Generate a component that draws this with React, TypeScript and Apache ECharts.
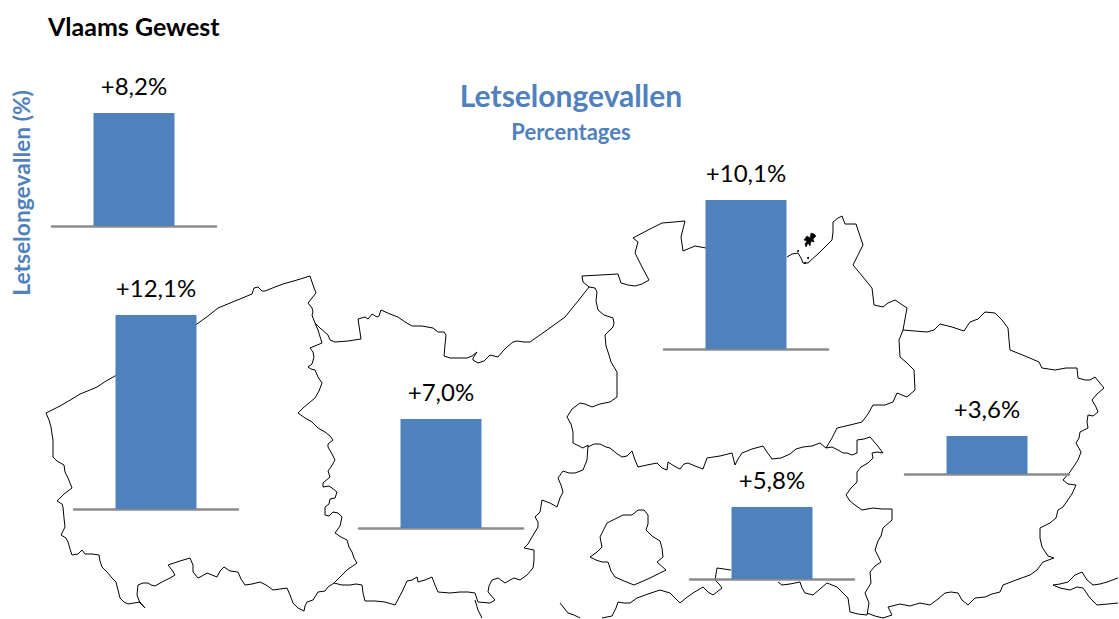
import React, { useEffect, useRef } from "react";
import * as echarts from "echarts";

const regions = ["Vlaams Gewest", "West-Vlaanderen", "Oost-Vlaanderen", "Antwerpen", "Vlaams-Brabant", "Limburg"];
const values = [8.2, 12.1, 7.0, 10.1, 5.8, 3.6];
const chartTitle = "Vlaams Gewest";
const mainTitle = "Letselongevallen";
const subTitle = "Percentages";
const axisTitle = "Letselongevallen (%)";

// Panel rectangles: [left, top of bar, width, height of bar]
const panels = [
  [52, 113, 164, 113],
  [74, 315, 164, 194],
  [359, 419, 164, 109],
  [664, 200, 164, 149],
  [690, 507, 164, 72],
  [905, 436, 164, 38],
];

// Province outlines (decoration behind the bars), in page pixels
const outlines: number[][][] = [
  // West-Vlaanderen coast and east side
  [[46,413],[60,406],[72,399],[80,394],[90,390],[97,387],[106,381],[115,376],[197,324],[208,316],[218,308],[235,301],[252,294],[254,288],[258,287],[262,291],[265,291],[275,287],[283,284],[297,280],[310,276],[312,282],[313,285],[316,293],[308,303],[312,308],[313,312],[312,315],[313,318],[315,323],[318,330],[322,343],[310,348],[313,352],[314,357],[312,364],[308,367],[311,369],[315,370],[318,377],[322,383],[319,391],[315,398],[309,403],[303,408],[298,413],[305,418],[312,422],[318,428],[325,432],[330,436],[333,440],[328,444],[328,447],[332,454],[335,460],[331,467],[328,471],[330,477],[323,483],[323,487],[329,486],[332,488],[337,492],[335,498],[330,499],[329,504],[325,507],[325,515],[329,516],[333,512],[338,513],[342,517],[340,526],[335,533],[341,537],[347,540],[349,547],[352,552],[354,558],[357,563],[347,570],[341,576],[334,583]],
  // West-Vlaanderen west and south side
  [[46,413],[49,420],[51,427],[52,434],[53,440],[53,451],[53,457],[57,461],[64,465],[65,472],[68,478],[72,488],[64,494],[57,501],[62,504],[63,507],[64,518],[65,527],[61,535],[66,538],[68,542],[70,549],[72,555],[78,554],[82,550],[85,554],[92,554],[99,555],[100,561],[102,567],[107,572],[112,578],[116,582],[118,590],[120,598],[124,602],[128,604],[134,603],[140,602],[145,608],[140,603],[137,595],[138,585],[143,583],[148,583],[151,585],[155,586],[162,582],[170,578],[175,575],[172,570],[168,565],[180,561],[190,558],[193,565],[193,572],[198,578],[202,576],[207,573],[212,575],[217,577],[220,571],[224,567],[230,571],[238,572],[241,579],[245,585],[252,584],[260,582],[266,585],[273,590],[280,589],[287,588],[290,595],[293,603],[298,608],[304,611],[305,606],[307,602],[313,600],[318,592],[325,591],[328,587],[334,583]],
  // Oost-Vlaanderen north side
  [[315,323],[320,328],[328,335],[330,340],[335,342],[348,341],[361,339],[358,319],[365,317],[368,319],[372,314],[377,317],[379,316],[381,310],[390,314],[398,317],[405,322],[412,326],[422,326],[433,328],[438,332],[444,332],[446,335],[445,345],[444,356],[450,358],[458,358],[467,358],[472,356],[477,352],[473,358],[473,360],[478,363],[484,361],[490,355],[498,357],[503,351],[507,347],[513,342],[517,341],[524,342],[530,342],[547,330],[565,317],[578,301],[589,287]],
  // Schelde side, between Oost-Vlaanderen and Antwerpen
  [[582,276],[583,282],[589,287],[595,288],[597,292],[596,301],[598,310],[604,315],[613,318],[614,323],[613,327],[605,335],[606,346],[609,355],[611,362],[617,372],[617,385],[617,397],[610,402],[600,404],[592,407],[585,404],[580,403],[572,409],[567,417],[571,424],[573,432],[573,443],[583,448],[588,445]],
  // Oost-Vlaanderen and Vlaams-Brabant
  [[588,445],[587,460],[583,470],[575,473],[569,473],[563,471],[558,478],[561,485],[563,492],[560,498],[557,507],[550,503],[542,500],[540,512],[535,517],[538,522],[538,527],[532,537],[528,544],[524,548],[534,550],[534,560],[533,568],[527,575],[520,580],[514,578],[510,580],[505,583],[498,578],[492,580],[489,586],[488,592],[495,600],[490,603],[478,602],[475,593],[468,592],[460,592],[450,593],[438,592],[435,585],[432,577],[425,580],[418,582],[417,577],[412,580],[407,581],[402,592],[395,605],[385,602],[375,601],[365,601],[363,593],[362,585],[356,584],[350,585],[342,585],[334,583]],
  [[475,600],[478,610],[482,618]],
  // Antwerpen / Vlaams-Brabant
  [[588,447],[594,444],[600,444],[606,447],[610,448],[616,453],[622,457],[627,456],[632,451],[635,460],[638,467],[647,465],[657,463],[662,468],[667,470],[668,462],[674,466],[680,469],[684,464],[688,463],[695,466],[703,469],[707,458],[720,456],[732,453],[735,465],[738,459],[742,453],[752,449],[763,446],[767,452],[772,459],[781,458],[790,454],[796,449],[803,447],[812,446],[820,443],[826,448]],
  // Antwerpen north and east side
  [[582,276],[600,275],[618,274],[621,283],[628,285],[635,286],[642,284],[649,280],[642,267],[635,253],[638,242],[633,238],[648,230],[662,223],[674,222],[685,221],[681,237],[683,251],[695,246],[706,248]],
  [[787,257],[792,254],[798,253],[801,258],[803,263],[808,263],[820,252],[832,240],[833,232],[833,222],[838,218],[842,216],[845,224],[856,224],[863,245],[853,265],[863,277],[872,288],[874,305],[883,307],[888,303],[895,300],[907,308],[903,330],[899,340],[900,357],[907,363],[914,370],[915,390],[907,397],[897,393],[893,402],[885,405],[873,405],[868,414],[862,422],[850,425],[837,428],[832,438],[826,448],[832,447],[838,450],[843,453],[847,453],[852,455],[857,453],[857,446],[857,440],[864,439],[870,437],[877,445],[883,453],[877,452],[872,453],[873,458],[868,463],[861,467],[857,472],[857,482],[851,488],[846,495],[850,501],[855,505],[862,510],[873,508],[882,509],[892,509],[892,520],[883,528],[881,536],[878,541],[875,550],[881,562],[875,566],[870,572],[871,583],[865,593],[869,603],[867,615]],
  // Vlaams-Brabant south side
  [[560,603],[564,608],[568,613],[574,615],[580,618]],
  [[602,618],[612,616],[616,608],[618,602],[624,603],[630,603],[637,598],[648,594],[660,590],[670,593],[675,598],[680,603],[686,598],[693,593],[703,587],[708,592],[713,595],[722,588],[719,584],[715,580],[717,568],[731,570]],
  [[778,582],[782,585],[790,584],[800,582],[802,588],[805,593],[813,595],[820,589],[827,583],[837,587],[842,592],[848,598],[849,605],[850,612],[858,614],[867,615]],
  // Limburg
  [[903,330],[915,331],[927,332],[934,330],[940,324],[952,327],[964,331],[970,322],[978,319],[985,312],[995,313],[1002,320],[1008,328],[1009,340],[1010,350],[1025,356],[1039,362],[1042,368],[1055,370],[1066,368],[1077,368],[1078,378],[1085,380],[1090,380],[1095,377],[1104,388],[1097,394],[1092,400],[1096,407],[1098,412],[1093,416],[1088,415],[1087,422],[1088,428],[1080,432],[1079,438],[1076,443],[1081,452],[1078,460],[1070,472],[1063,480],[1068,484],[1076,485],[1072,494],[1063,507],[1058,510],[1056,518],[1050,523],[1040,528],[1040,538],[1042,547],[1048,556],[1054,558],[1043,562],[1037,570],[1030,575],[1016,580],[1003,585],[1000,592],[992,594],[985,597],[975,598],[968,605],[962,600],[958,593],[951,592],[945,593],[938,599],[930,605],[920,603],[910,606],[900,604],[888,607],[892,615],[883,618],[875,616],[867,613]],
  // Brussel
  [[590,557],[597,552],[602,547],[600,537],[603,531],[607,523],[615,519],[623,515],[632,515],[638,510],[644,510],[648,515],[648,524],[646,530],[652,536],[660,541],[662,548],[663,557],[657,562],[666,570],[650,578],[634,585],[624,581],[615,577],[611,571],[608,562],[602,562],[596,560],[590,557]],
  // Luik corner, lower right
  [[1053,585],[1060,584],[1068,582],[1075,575],[1082,572],[1087,580],[1093,585],[1100,584],[1107,582],[1118,578]],
  [[1053,585],[1060,588],[1070,590],[1077,587],[1083,588],[1090,598],[1097,605],[1108,604],[1118,603]],
];
const island = [[804,240],[807,236],[810,238],[811,233],[814,234],[816,236],[813,239],[814,242],[811,241],[810,246],[808,243],[806,247],[805,244],[807,241]];
const spots = [[798,251],[808,258],[805,263]];

const blue = "#4F81BD";
const font = "Lato, 'Open Sans', sans-serif";

export default function App() {
  const ref = useRef<HTMLDivElement>(null);
  useEffect(() => {
    const chart = echarts.init(ref.current!, undefined, { renderer: "svg" });
    const outlineEls: any[] = outlines.map((points) => ({
      type: "polyline",
      z: 0,
      shape: { points },
      style: { stroke: "#000", lineWidth: 1, fill: "none" },
    }));
    outlineEls.push({
      type: "polygon",
      z: 0,
      shape: { points: island },
      style: { fill: "#000", stroke: "#000", lineWidth: 0.6 },
    });
    spots.forEach(([cx, cy]) =>
      outlineEls.push({ type: "circle", z: 0, shape: { cx, cy, r: 1 }, style: { fill: "#000" } })
    );
    chart.setOption({
      animation: false,
      backgroundColor: "#fff",
      title: [
        { text: chartTitle, left: 43, top: 8, textStyle: { fontFamily: font, fontSize: 25, fontWeight: "bold", color: "#000" } },
        { text: mainTitle, left: 566, top: 75, textAlign: "center", textStyle: { fontFamily: font, fontSize: 30, fontWeight: "bold", color: blue } },
        { text: subTitle, left: 566, top: 115, textAlign: "center", textStyle: { fontFamily: font, fontSize: 22, fontWeight: "bold", color: blue } },
      ],
      graphic: [
        ...outlineEls,
        {
          type: "text",
          x: 21,
          y: 193,
          rotation: Math.PI / 2,
          style: { text: axisTitle, fontFamily: font, fontSize: 22.8, fontWeight: "bold", fill: blue, align: "center", verticalAlign: "middle" },
        },
      ],
      grid: panels.map(([left, top, width, height]) => ({ left, top, width, height })),
      xAxis: panels.map((_, i) => ({
        type: "category",
        gridIndex: i,
        data: [regions[i]],
        axisLine: { lineStyle: { color: "#8c8c8c", width: 2.5 } },
        axisTick: { show: false },
        axisLabel: { show: false },
        splitLine: { show: false },
      })),
      yAxis: panels.map((_, i) => ({
        type: "value",
        gridIndex: i,
        min: 0,
        max: values[i],
        show: false,
        splitLine: { show: false },
      })),
      series: values.map((v, i) => ({
        type: "bar",
        xAxisIndex: i,
        yAxisIndex: i,
        data: [v],
        barWidth: 81,
        z: 2,
        itemStyle: { color: blue },
        label: {
          show: true,
          position: "top",
          distance: 16,
          fontFamily: font,
          fontSize: 24,
          color: "#000",
          formatter: (p: any) => "+" + Number(p.value).toFixed(1).replace(".", ",") + "%",
        },
      })),
    });
    return () => chart.dispose();
  }, []);
  return <div ref={ref} style={{ position: "absolute", left: 0, top: 0, width: 1119, height: 619 }} />;
}
